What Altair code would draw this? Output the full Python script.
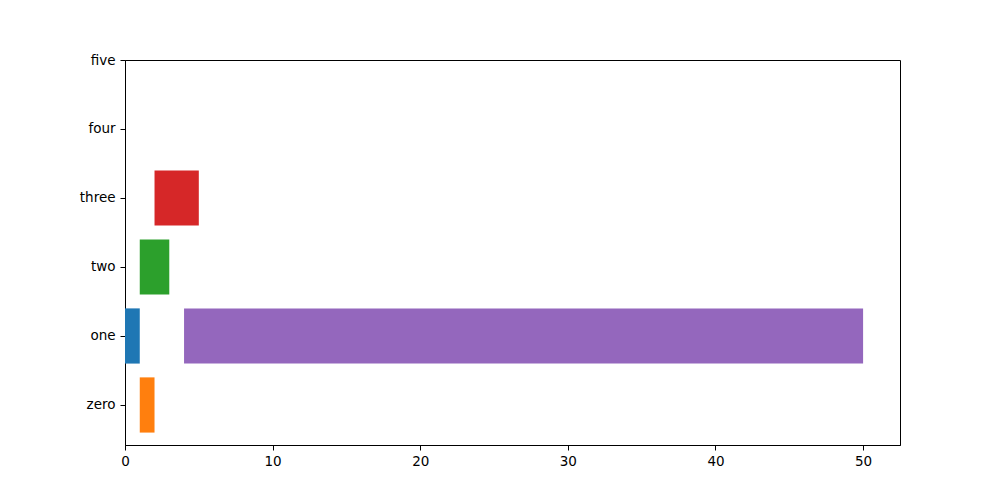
import altair as alt
import pandas as pd

categories = ["zero", "one", "two", "three", "four", "five"]
bar_cat = ["one", "zero", "two", "three", "one"]
bar_start = [0, 1, 1, 2, 4]
bar_end = [1, 2, 3, 5, 50]
bar_color = ["#1f77b4", "#ff7f0e", "#2ca02c", "#d62728", "#9467bd"]

idx = [categories.index(c) for c in bar_cat]
df = pd.DataFrame({
    "cat": bar_cat,
    "y0": [i - 0.4 for i in idx],
    "y1": [i + 0.4 for i in idx],
    "start": bar_start,
    "end": bar_end,
    "color": bar_color,
})

label_expr = "[" + ",".join("'%s'" % c for c in categories) + "][datum.value]"

font = "DejaVu Sans"
chart = alt.Chart(df).mark_rect().encode(
    x=alt.X("start:Q", scale=alt.Scale(domain=[0, 52.5], nice=False, zero=False),
            axis=alt.Axis(values=[0, 10, 20, 30, 40, 50], title=None, grid=False,
                          labelFont=font, labelFontSize=13.5, labelColor="black",
                          tickColor="black", domainColor="black", tickSize=5,
                          labelPadding=4, labelFlush=False)),
    x2="end:Q",
    y=alt.Y("y0:Q", scale=alt.Scale(domain=[-0.58, 5.0], nice=False, zero=False),
            axis=alt.Axis(values=[0, 1, 2, 3, 4, 5], labelExpr=label_expr, title=None,
                          grid=False, labelFont=font, labelFontSize=13.5, labelColor="black",
                          tickColor="black", domainColor="black", tickSize=5,
                          labelPadding=5, labelFlush=False)),
    y2="y1:Q",
    color=alt.Color("color:N", scale=None),
).properties(
    width=775, height=385,
    autosize=alt.AutoSizeParams(type="none"),
    padding={"left": 117, "top": 52, "right": 84, "bottom": 40},
).configure_view(stroke="black", strokeWidth=1)

chart.save("out.html", embed_options={"renderer": "svg", "actions": False})
